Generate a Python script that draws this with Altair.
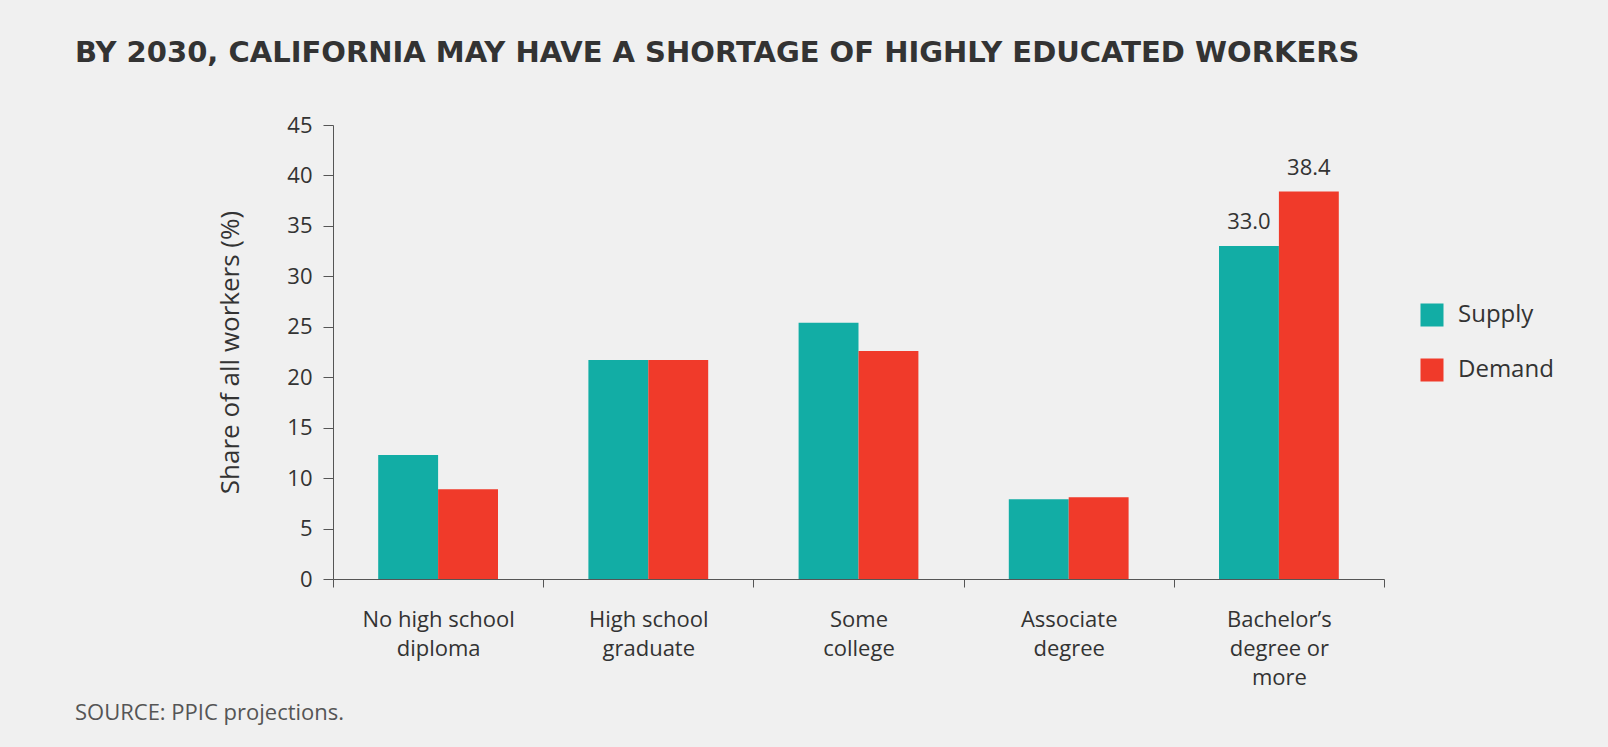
import altair as alt
import pandas as pd

categories = [
    "No high school\ndiploma",
    "High school\ngraduate",
    "Some\ncollege",
    "Associate\ndegree",
    "Bachelor’s\ndegree or\nmore",
]
supply = [12.3, 21.7, 25.4, 7.9, 33.0]
demand = [8.9, 21.7, 22.6, 8.1, 38.4]
series = ["Supply", "Demand"]
colors = ["#12ADA5", "#F03A2A"]
y_ticks = [0, 5, 10, 15, 20, 25, 30, 35, 40, 45]

rows = []
for c, s, d in zip(categories, supply, demand):
    rows.append({"category": c, "series": "Supply", "value": s})
    rows.append({"category": c, "series": "Demand", "value": d})
df = pd.DataFrame(rows)

FONT = "Open Sans"
W, H = 1051, 454
LEFT, TOP = 333, 125

x_enc = alt.X(
    "category:N",
    sort=categories,
    scale=alt.Scale(paddingInner=0, paddingOuter=0),
    axis=alt.Axis(
        title=None,
        labelAngle=0,
        labelExpr="split(datum.label, '\\n')",
        labelFontSize=22,
        labelLineHeight=29,
        labelPadding=22,
        labelColor="#333333",
        labelFont=FONT,
        tickBand="extent",
        tickSize=8,
        tickColor="#555555",
        domainColor="#555555",
        grid=False,
    ),
)
xoff = alt.XOffset(
    "series:N", sort=series, scale=alt.Scale(paddingInner=0, paddingOuter=0.7546)
)
y_enc = alt.Y(
    "value:Q",
    scale=alt.Scale(domain=[0, 45], nice=False),
    axis=alt.Axis(
        title="Share of all workers (%)",
        values=y_ticks,
        grid=False,
        tickSize=10,
        tickColor="#555555",
        domainColor="#555555",
        labelFontSize=22,
        labelFont=FONT,
        labelColor="#333333",
        labelPadding=11,
        titleFont=FONT,
        titleFontSize=26,
        titleFontWeight="normal",
        titleColor="#333333",
        titlePadding=43,
    ),
)

bars = alt.Chart(df).mark_bar().encode(
    x=x_enc,
    xOffset=xoff,
    y=y_enc,
    color=alt.Color(
        "series:N",
        sort=series,
        scale=alt.Scale(domain=series, range=colors),
        legend=alt.Legend(
            title=None,
            orient="none",
            legendX=1420 - LEFT,
            legendY=178,
            symbolType="square",
            symbolSize=529,
            symbolStrokeWidth=0,
            symbolOpacity=1,
            labelFontSize=24,
            labelFont=FONT,
            labelColor="#333333",
            labelOffset=14,
            rowPadding=31,
        ),
    ),
)

labels = alt.Chart(df).transform_filter(
    "indexof(datum.category, 'Bachelor') >= 0"
).mark_text(baseline="middle", dy=-24, fontSize=22, font=FONT, color="#333333").encode(
    x=alt.X("category:N", sort=categories),
    xOffset=alt.XOffset("series:N", sort=series),
    y=alt.Y("value:Q"),
    text=alt.Text("value:Q", format=".1f"),
)

source = alt.Chart(pd.DataFrame({"t": ["SOURCE: PPIC projections."]})).mark_text(
    align="left", baseline="middle", fontSize=22, font=FONT, color="#555555"
).encode(
    x=alt.value(75 - LEFT),
    y=alt.value(713 - TOP),
    text="t:N",
)

chart = alt.layer(bars, labels, source).properties(
    width=W,
    height=H,
    background="#f0f0f0",
    padding={"left": LEFT, "top": TOP, "right": 1608 - LEFT - W, "bottom": 747 - TOP - H},
    autosize=alt.AutoSizeParams(type="none"),
    title=alt.TitleParams(
        text="BY 2030, CALIFORNIA MAY HAVE A SHORTAGE OF HIGHLY EDUCATED WORKERS",
        anchor="start",
        frame="group",
        dx=75 - LEFT,
        offset=23,
        baseline="alphabetic",
        fontSize=29,
        font="DejaVu Sans",
        fontWeight="bold",
        color="#333333",
    ),
).configure_view(stroke=None)

chart.save("out.html", embed_options={"renderer": "svg", "actions": False})
